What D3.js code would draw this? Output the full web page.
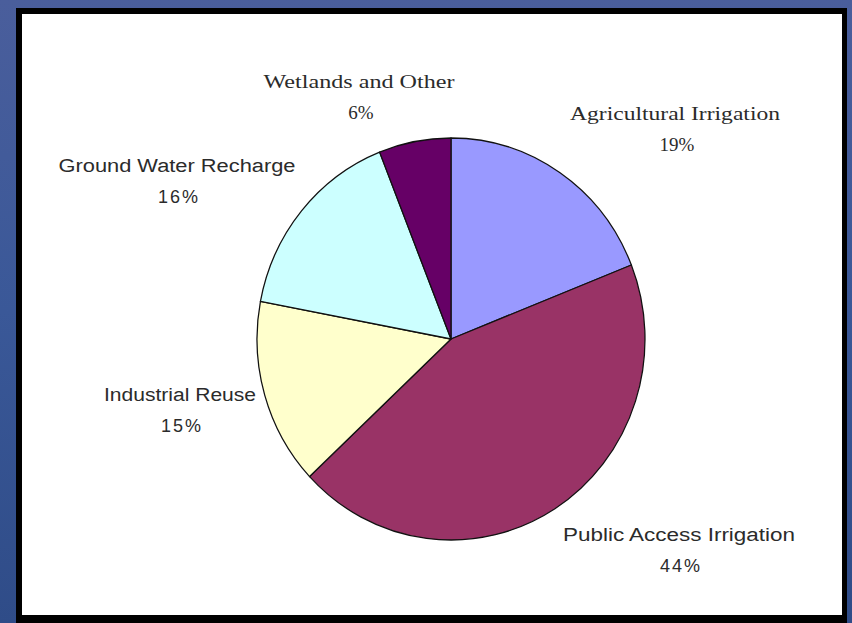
<!DOCTYPE html>
<html>
<head>
<meta charset="utf-8">
<script src="https://cdn.jsdelivr.net/npm/d3@7"></script>
<style>
  html, body { margin: 0; padding: 0; background: #3b5896; }
  svg { display: block; }
</style>
</head>
<body>
<svg id="chart" width="852" height="623"></svg>
<script>
// Reclaimed water use by category, clockwise from 12 o'clock
const categories = ["Agricultural Irrigation", "Public Access Irrigation", "Industrial Reuse", "Ground Water Recharge", "Wetlands and Other"];
const values = [19, 44, 15, 16, 6];
const colors = ["#9999ff", "#993366", "#ffffcc", "#ccffff", "#660066"];

const W = 852, H = 623;
const svg = d3.select("#chart");

// backdrop
const defs = svg.append("defs");
const grad = defs.append("linearGradient").attr("id", "bg").attr("x1", 0).attr("y1", 0).attr("x2", 0).attr("y2", 1);
grad.append("stop").attr("offset", 0).attr("stop-color", "#4a5e9c");
grad.append("stop").attr("offset", 0.5).attr("stop-color", "#3a5898");
grad.append("stop").attr("offset", 1).attr("stop-color", "#2f4c88");
svg.append("rect").attr("width", W).attr("height", H).attr("fill", "url(#bg)");

// framed plot area
svg.append("rect").attr("x", 16).attr("y", 8).attr("width", 831).attr("height", 620).attr("fill", "#000");
svg.append("rect").attr("x", 22).attr("y", 14).attr("width", 820).attr("height", 601).attr("fill", "#fff");

// pie
const cx = 451, cy = 339, rx = 194, ry = 201, R = 200;
const pie = d3.pie().sort(null).value(d => d)(values);
const arc = d3.arc().innerRadius(0).outerRadius(R);

const g = svg.append("g")
  .attr("transform", `translate(${cx},${cy}) scale(${rx / R},${ry / R})`);
g.selectAll("path")
  .data(pie)
  .join("path")
  .attr("d", arc)
  .attr("fill", (d, i) => colors[i])
  .attr("stroke", "#111")
  .attr("stroke-width", 1.3)
  .attr("stroke-linejoin", "round");

// labels: name + percentage
const SERIF = "'Liberation Serif', 'Times New Roman', serif";
const SANS = "'Liberation Sans', Arial, sans-serif";
const labelLayout = [
  { x: 675, y: 120, font: SERIF, size: 19, len: 210 },
  { x: 679, y: 541, font: SANS, size: 18, len: 232 },
  { x: 180, y: 401, font: SANS, size: 18, len: 152 },
  { x: 177, y: 172, font: SANS, size: 18, len: 237 },
  { x: 359, y: 88,  font: SERIF, size: 19, len: 191 }
];

const total = d3.sum(values);
const labels = svg.append("g").attr("fill", "#2b2b2b");
categories.forEach((name, i) => {
  const L = labelLayout[i];
  labels.append("text")
    .attr("x", L.x).attr("y", L.y)
    .attr("text-anchor", "middle")
    .attr("font-family", L.font)
    .attr("font-size", L.size)
    .attr("textLength", L.len)
    .attr("lengthAdjust", "spacingAndGlyphs")
    .text(name);
  labels.append("text")
    .attr("x", L.x + 2).attr("y", L.y + 31)
    .attr("text-anchor", "middle")
    .attr("font-family", L.font)
    .attr("font-size", L.size)
    .attr("letter-spacing", L.font === SANS ? 2 : 0)
    .text(Math.round(values[i] / total * 100) + "%");
});
</script>
</body>
</html>
